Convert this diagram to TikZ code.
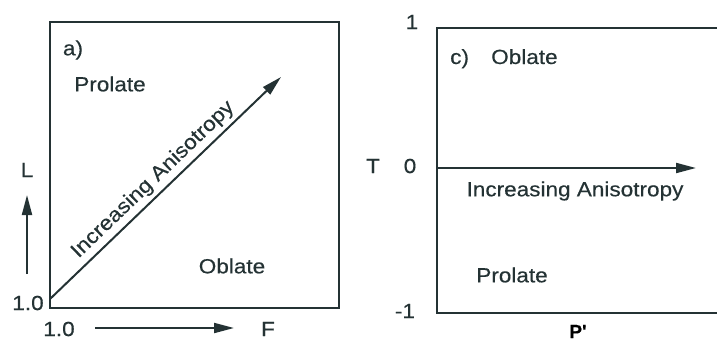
\documentclass[tikz,border=0pt]{standalone}
\usepackage{fontspec}
\setmainfont[FakeStretch=1.1,FakeBold=0.4]{Liberation Sans}
\newfontfamily\boldlbl[FakeBold=0.6]{Liberation Sans Bold}
\usetikzlibrary{arrows.meta}
\definecolor{ink}{RGB}{36,50,52}
\begin{document}
\begin{tikzpicture}[x=1pt,y=-1pt,
  lbl/.style={font=\fontsize{20.5}{22}\selectfont, text=ink, inner sep=0pt},
  frame/.style={draw=ink, line width=2.4pt, line join=miter},
  arr/.style={draw=ink, line width=2pt, -{Triangle[length=20pt,width=10pt]}}]
\useasboundingbox (0,0) rectangle (717,341);
% left panel
\coordinate (a-bl) at (50,308);
\coordinate (a-tr) at (339,22);
\draw[frame] (a-bl) rectangle (a-tr);
\coordinate (d-start) at (50,299);
\coordinate (d-end) at (281,77);
\draw[arr] (d-start) -- node[lbl, sloped, anchor=south, inner sep=4pt, pos=0.49] (d-lbl) {Increasing Anisotropy} (d-end);
\node[lbl] (a-tag) at (73,50) {a)};
\node[lbl] (a-pro) at (110,84) {Prolate};
\node[lbl] (a-obl) at (232,266) {Oblate};
\node[lbl] (a-L) at (27,170) {L};
\coordinate (L-start) at (27,274);
\coordinate (L-end) at (27,195);
\draw[arr] (L-start) -- (L-end);
\node[lbl] (a-y10) at (28,303) {1.0};
\node[lbl] (a-x10) at (59,329) {1.0};
\coordinate (F-start) at (95,328);
\coordinate (F-end) at (234,328);
\draw[arr] (F-start) -- (F-end);
\node[lbl] (a-F) at (268,329) {F};
% right panel
\coordinate (c-tr) at (718,28);
\coordinate (c-tl) at (437,28);
\coordinate (c-bl) at (437,313);
\coordinate (c-br) at (718,313);
\draw[frame] (c-tr) -- (c-tl) -- (c-bl) -- (c-br);
\coordinate (h-start) at (437,168);
\coordinate (h-end) at (696,168);
\draw[arr] (h-start) -- (h-end);
\node[lbl] (c-1) at (412,22) {1};
\node[lbl] (c-T) at (373,166) {T};
\node[lbl] (c-0) at (410,166) {0};
\node[lbl] (c-m1) at (405,311) {-1};
\node[lbl, anchor=base, font=\boldlbl\fontsize{19}{20}\selectfont, text=black] (c-P) at (578,338) {P\char"27};
\node[lbl, anchor=base west] (c-tag) at (450,64) {c)};
\node[lbl, anchor=base west] (c-obl) at (491,64) {Oblate};
\node[lbl] (c-inc) at (575,191) {Increasing Anisotropy};
\node[lbl] (c-pro) at (512,275) {Prolate};
\end{tikzpicture}
\end{document}
